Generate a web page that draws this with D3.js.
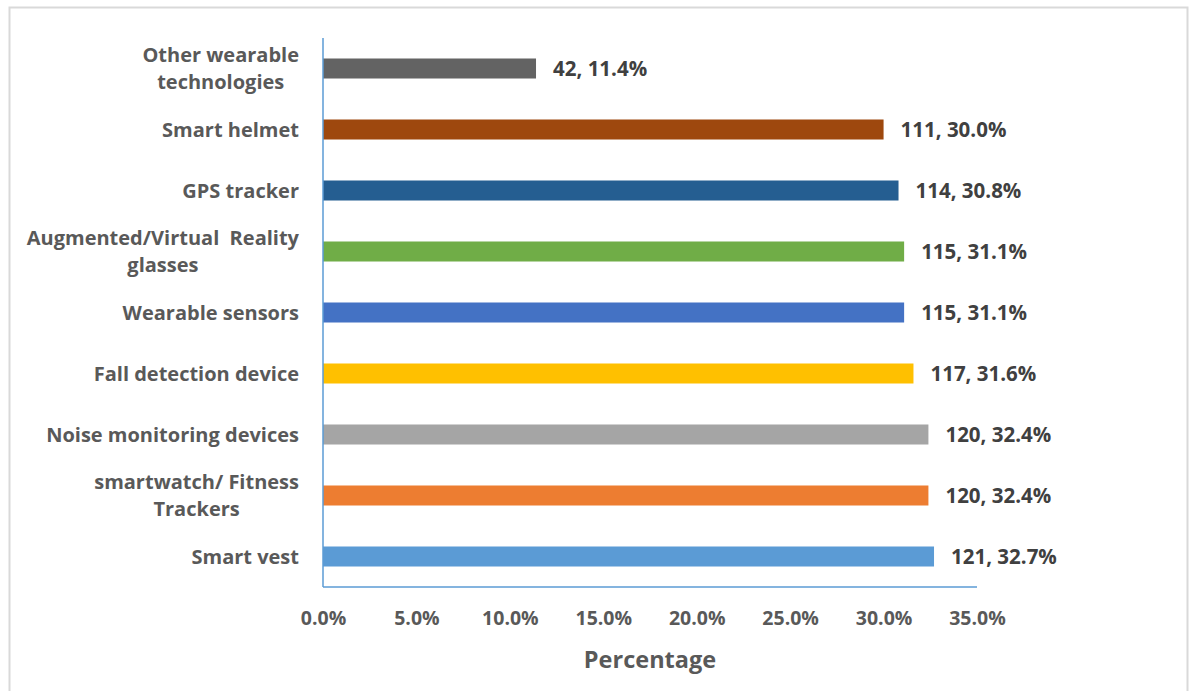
<!DOCTYPE html>
<html><head><meta charset="utf-8">
<script src="https://cdn.jsdelivr.net/npm/d3@7"></script>
<style>
html,body{margin:0;padding:0;background:#fff;}
svg{display:block;font-family:"Open Sans",sans-serif;}
</style></head>
<body>
<svg id="chart" width="1191" height="691"></svg>
<script>
const categories = [
  "Other wearable|technologies",
  "Smart helmet",
  "GPS tracker",
  "Augmented/Virtual\u00a0 Reality|glasses",
  "Wearable sensors",
  "Fall detection device",
  "Noise monitoring devices",
  "smartwatch/ Fitness|Trackers",
  "Smart vest"
];
const counts = [42, 111, 114, 115, 115, 117, 120, 120, 121];
const percents = [11.4, 30.0, 30.8, 31.1, 31.1, 31.6, 32.4, 32.4, 32.7];
const colors = ["#636363","#9E480E","#255E91","#70AD47","#4472C4","#FFC000","#A5A5A5","#ED7D31","#5B9BD5"];
const xTicks = [0, 5, 10, 15, 20, 25, 30, 35];

(function(){
const svg = d3.select("#chart");
// outer frame
svg.append("rect").attr("x",9.5).attr("y",7.5).attr("width",1178).attr("height",700)
  .attr("fill","none").attr("stroke","#d9d9d9").attr("stroke-width",2);

const pL = 323, pR = 977, pT = 38, pB = 587;
const x = d3.scaleLinear().domain([0, 35]).range([pL, pR]);
const y = d3.scaleBand().domain(categories).range([pT, pB]).paddingInner(0.672).paddingOuter(0.336);

// bars
svg.append("g").selectAll("rect").data(categories).join("rect")
  .attr("x", x(0))
  .attr("y", d => y(d))
  .attr("width", (d,i) => x(percents[i]) - x(0))
  .attr("height", y.bandwidth())
  .attr("fill", (d,i) => colors[i]);

// data labels
svg.append("g").selectAll("text").data(categories).join("text")
  .attr("x", (d,i) => x(percents[i]) + 17)
  .attr("y", d => y(d) + y.bandwidth()/2)
  .attr("dy", "0.35em")
  .attr("font-size", 20.5).attr("font-weight", 700).attr("fill", "#404040")
  .text((d,i) => `${counts[i]}, ${percents[i].toFixed(1)}%`);

// axes lines
svg.append("line").attr("x1", pL).attr("x2", pL).attr("y1", pT).attr("y2", pB)
  .attr("stroke", "#5B9BD5").attr("stroke-width", 1.5);
svg.append("line").attr("x1", pL).attr("x2", pR).attr("y1", pB).attr("y2", pB)
  .attr("stroke", "#5B9BD5").attr("stroke-width", 1.5);

// x tick labels via axis
const xAxis = d3.axisBottom(x).tickValues(xTicks).tickSize(0).tickPadding(0)
  .tickFormat(d => d.toFixed(1) + "%");
const gx = svg.append("g").attr("transform", `translate(0,${pB})`).call(xAxis);
gx.select(".domain").remove();
gx.selectAll("text").attr("y", 31).attr("dy", "0.35em")
  .attr("font-size", 19.5).attr("font-weight", 700).attr("fill", "#595959")
  .attr("font-family", "Open Sans, sans-serif");

// category labels
const labelRight = 299;
const gl = svg.append("g");
categories.forEach((c, i) => {
  const lines = c.split("|");
  const t = gl.append("text").attr("font-size", 20).attr("font-weight", 700).attr("fill", "#595959");
  const cy = y(c) + y.bandwidth()/2;
  const lh = 27.5;
  const tspans = lines.map((ln, j) => t.append("tspan").text(ln)
    .attr("y", cy + (j - (lines.length-1)/2) * lh).attr("dy", "0.35em"));
  const widths = tspans.map(s => s.node().getComputedTextLength());
  const maxW = d3.max(widths);
  const cx = labelRight - maxW/2;
  tspans.forEach(s => s.attr("x", cx).attr("text-anchor", "middle"));
});

// axis title
svg.append("text").attr("x", 650).attr("y", 660).attr("dy", "0.35em")
  .attr("text-anchor", "middle").attr("font-size", 23.5).attr("font-weight", 700)
  .attr("fill", "#595959").text("Percentage");
})();
</script>
</body></html>
